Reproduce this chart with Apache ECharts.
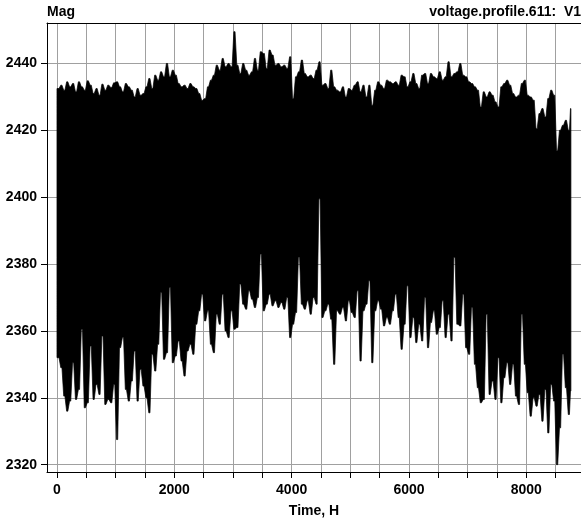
<!DOCTYPE html>
<html>
<head>
<meta charset="utf-8">
<script src="https://cdn.jsdelivr.net/npm/echarts@6/dist/echarts.min.js"></script>
<style>
html,body{margin:0;padding:0;background:#fff;}
#chart{width:581px;height:526px;}
</style>
</head>
<body>
<div id="chart"></div>
<script>
// Sampling step of the envelope columns (hours); each column has a peak and a trough
const stepHours = 50;
const lastHour = 8760;
// Upper envelope (peak voltage) of each column
const peakV = [
2432.5,2433.5,2432,2434.5,2433,2434,2431.5,2434.5,2433,2432,
2434.8,2433.5,2431,2432.5,2430.5,2433.8,2432,2433.5,2432.8,2434.2,
2434.5,2433,2431.5,2434,2433,2432,2430,2432.5,2430.5,2431,
2433,2435.5,2432.5,2436.5,2435,2437.5,2436,2440,2436,2438,
2436.5,2434,2433,2433.5,2432.5,2434,2433,2432.5,2431,2429,
2429.5,2433,2435,2436.5,2439.5,2438,2441.5,2439,2440,2439,
2449.5,2439.5,2437,2440,2438,2436.5,2437.5,2441.5,2438,2443.5,
2443,2438.5,2444,2442.5,2439.5,2440,2439,2439.5,2438.5,2442,
2429.5,2436,2437.5,2441,2437,2436,2436.5,2435.5,2438,2440.5,
2433.5,2434,2432.5,2438,2433,2432,2431.5,2433,2430,2432.5,
2432,2433.5,2434.5,2431.5,2433.5,2430,2433.5,2427.5,2432,2434.5,
2433.5,2432.5,2435,2434.5,2434,2434.5,2433.5,2436.5,2436,2433,
2434.5,2437,2434,2432.5,2436.5,2437,2434,2437,2436,2435.5,
2437.5,2435,2436,2440.5,2436,2437,2437.5,2440,2436.5,2436,
2434.5,2434,2433,2432,2427,2431.5,2430,2431.5,2430.5,2428.5,
2427,2433,2434,2435,2433.5,2431,2430,2430.5,2434,2435,
2430.5,2430,2429,2420.5,2425,2426.5,2424,2429.5,2432,2430.5,
2414,2420,2421.5,2423,2420,2426.5
];
// Lower envelope (trough voltage) of each column
const troughV = [
2352,2349,2340.5,2336,2339,2350.5,2339.5,2342.5,2360.5,2337,
2338.5,2355.5,2339.5,2344,2341,2358.5,2338,2339.5,2338.5,2344,
2327.5,2355,2358,2342.5,2339,2345,2354,2339,2348.5,2343.5,
2340,2335.5,2353,2348,2356,2371.5,2351.5,2353.5,2373,2350.5,
2352.5,2357,2351,2346.5,2354,2356,2353,2362,2366,2371,
2363,2366,2356,2353.5,2365,2362,2371,2360,2358,2366,
2360.5,2361,2374,2368,2366.5,2372,2369.5,2367,2370,2383,
2366,2368,2371,2367.5,2369,2367,2368.5,2366.5,2370,2358,
2362,2365.5,2382,2368,2366.5,2369,2365,2370,2368,2399.5,
2364,2366,2368,2363.5,2350,2366,2365,2367,2363,2369,
2365.5,2364,2372,2351,2366,2368,2375,2350.5,2366,2369,
2366.5,2361.5,2364,2362,2366,2371,2364,2354.5,2362,2373.5,
2358,2364,2356.5,2362,2357,2370,2355,2362.5,2366,2359,
2361,2369,2358,2365,2357,2382,2362,2361.5,2371,2355,
2353,2367,2350,2343,2338.5,2339.5,2365,2341,2345,2339.5,
2352,2338.5,2346,2350.5,2344,2350,2340.5,2338,2365,2350,
2341.5,2334.5,2340,2337.5,2341,2333,2342.5,2329.5,2344,2339,
2320,2331,2353,2343,2335,2342
];
// Axis ticks / labels
const xTickHours = [0,500,1000,1500,2000,2500,3000,3500,4000,4500,5000,5500,6000,6500,7000,7500,8000,8500];
const xLabelHours = [0,2000,4000,6000,8000];
const yTickVals = [2320,2340,2360,2380,2400,2420,2440];

// One data row per column: [startHour, endHour, trough, peak]
const columns = peakV.map((p, k) => [k * stepHours, Math.min((k + 1) * stepHours, lastHour), troughV[k], p]);

const FONT = '"Liberation Sans", Arial, sans-serif';
const txt = {color: '#000', fontFamily: FONT, fontWeight: 'bold', fontSize: 14};
const plain = v => String(v);

// Each column is drawn as a narrow plateau in the middle of its time span,
// joined to its neighbours by short steep edges (spiky look of the original trace).
function renderEnvelope(params, api) {
  if (params.dataIndex !== 0) return null;
  const n = columns.length;
  const upper = [];
  const lower = [];
  for (let i = 0; i < n; i++) {
    const c = columns[i];
    const w = c[1] - c[0];
    const a = i === 0 ? c[0] : c[0] + w * 0.3;
    const b = i === n - 1 ? c[1] : c[1] - w * 0.3;
    upper.push(api.coord([a, c[3]]), api.coord([b, c[3]]));
    lower.push(api.coord([a, c[2]]), api.coord([b, c[2]]));
  }
  const pts = upper.concat(lower.reverse());
  return {
    type: 'polygon',
    shape: {points: pts},
    style: {fill: '#000', stroke: '#000', lineWidth: 0.7, lineJoin: 'bevel'}
  };
}

const chart = echarts.init(document.getElementById('chart'), null, {renderer: 'canvas'});
chart.setOption({
  animation: false,
  backgroundColor: '#fff',
  title: [
    {text: 'Mag', left: 47, top: 5, padding: 0, textStyle: txt},
    {text: 'voltage.profile.611:  V1', right: 0, top: 5, padding: 0, textStyle: txt}
  ],
  grid: {left: 47, top: 23, right: 0, bottom: 54, containLabel: false},
  xAxis: [{
    type: 'value', min: -170, max: 8932,
    axisLine: {show: true, onZero: false, lineStyle: {color: '#000', width: 1}},
    axisTick: {show: true, inside: false, length: 6, customValues: xTickHours, lineStyle: {color: '#000'}},
    axisLabel: {show: true, customValues: xLabelHours, margin: 11, formatter: plain, ...txt},
    splitLine: {show: true, lineStyle: {color: '#a0a0a0', width: 1}},
    name: 'Time, H', nameLocation: 'middle', nameGap: 32, nameTextStyle: txt
  }, {
    type: 'value', position: 'top', min: -170, max: 8932,
    axisLine: {show: true, onZero: false, lineStyle: {color: '#000', width: 1}},
    axisTick: {show: false}, axisLabel: {show: false}, splitLine: {show: false}
  }],
  yAxis: {
    type: 'value', min: 2317.8, max: 2452.1,
    axisLine: {show: true, onZero: false, lineStyle: {color: '#000', width: 1}},
    axisTick: {show: true, inside: false, length: 6, customValues: yTickVals, lineStyle: {color: '#000'}},
    axisLabel: {show: true, customValues: yTickVals, margin: 10, formatter: plain, ...txt},
    splitLine: {show: true, lineStyle: {color: '#a0a0a0', width: 1}}
  },
  series: [{
    type: 'custom',
    xAxisIndex: 0,
    data: columns,
    encode: {x: [0, 1], y: [2, 3]},
    renderItem: renderEnvelope,
    silent: true,
    clip: true,
    emphasis: {disabled: true}
  }]
});
</script>
</body>
</html>
